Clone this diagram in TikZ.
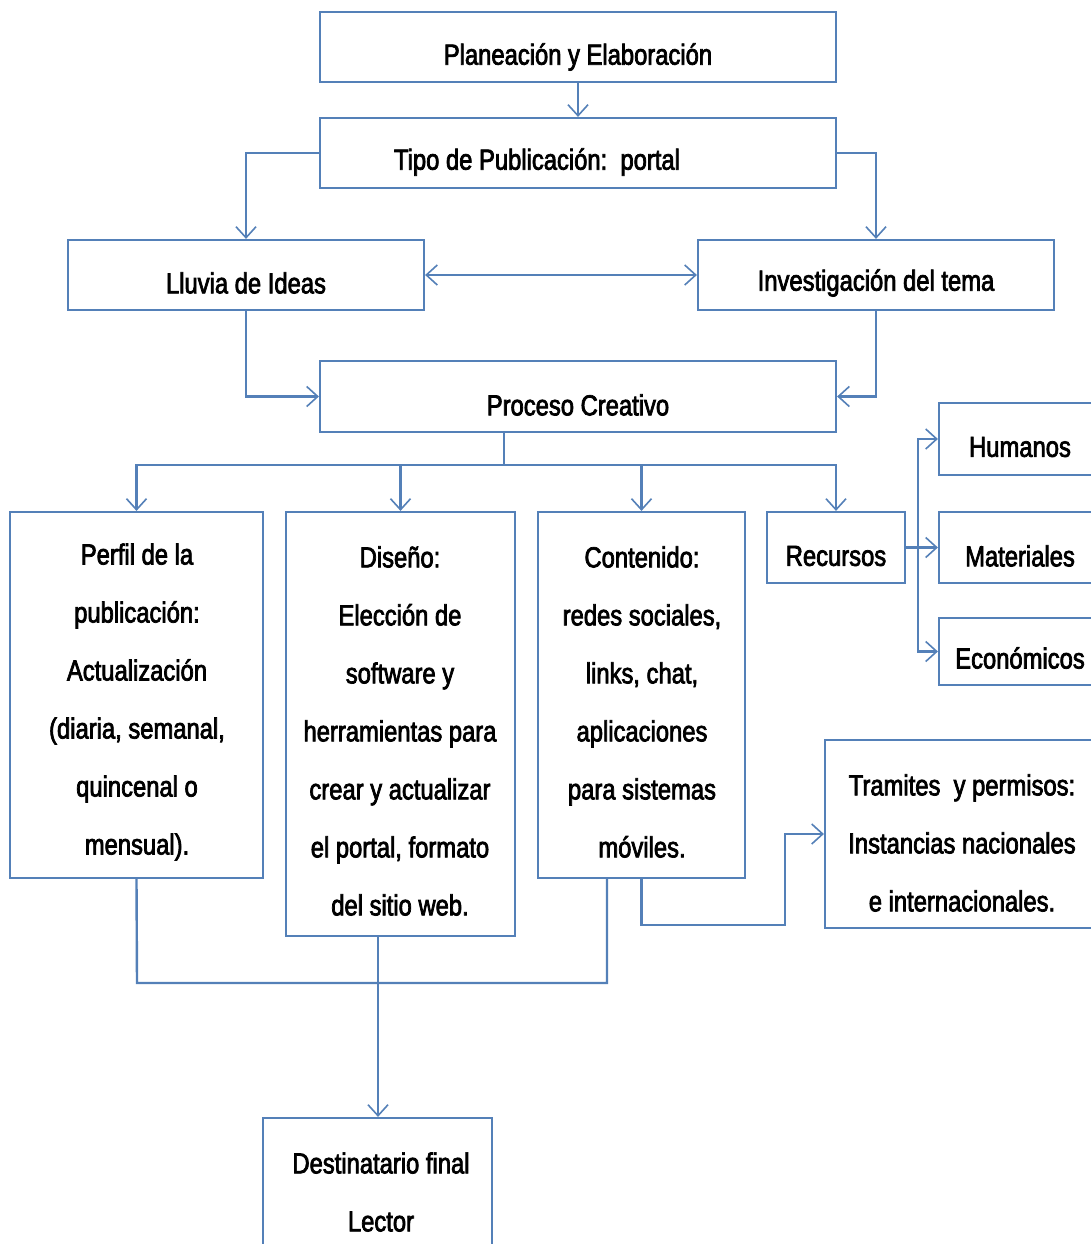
\documentclass[tikz,border=0pt]{standalone}
\usepackage{fontspec}
\setmainfont{Liberation Sans}[FakeStretch=0.82,FakeBold=2.5]
\usetikzlibrary{arrows.meta}
\definecolor{lc}{RGB}{84,128,184}
\tikzset{
  box/.style={draw=lc, line width=2.2pt, inner sep=0pt, fill=white},
  txt/.style={inner sep=0pt, align=center, text=black,
     font=\fontsize{29pt}{58pt}\selectfont},
  line/.style={draw=lc, line width=2.4pt},
  arr/.style={line, -{Straight Barb[length=11pt,width=20pt,line width=1.6pt]}},
  darr/.style={line, {Straight Barb[length=11pt,width=20pt,line width=1.6pt]}-{Straight Barb[length=11pt,width=20pt,line width=1.6pt]}}
}
\begin{document}
\begin{tikzpicture}[x=1pt,y=-1pt]
\useasboundingbox[fill=white] (0,0) rectangle (1090,1244);
% boxes
\node[box, minimum width=516pt, minimum height=70pt] (plan) at (578,47) {};
\node[box, minimum width=516pt, minimum height=70pt] (tipo) at (578,153) {};
\node[box, minimum width=356pt, minimum height=70pt] (lluvia) at (246,275) {};
\node[box, minimum width=356pt, minimum height=70pt] (inv) at (876,275) {};
\node[box, minimum width=516pt, minimum height=71pt] (proc) at (578,396.5) {};
\node[box, minimum width=253pt, minimum height=366pt] (perfil) at (136.5,695) {};
\node[box, minimum width=229pt, minimum height=424pt] (dis) at (400.5,724) {};
\node[box, minimum width=207pt, minimum height=366pt] (cont) at (641.5,695) {};
\node[box, minimum width=138pt, minimum height=71pt] (rec) at (836,547.5) {};
\node[box, minimum width=160pt, minimum height=72pt] (hum) at (1019,439) {};
\node[box, minimum width=160pt, minimum height=71pt] (mat) at (1019,547.5) {};
\node[box, minimum width=160pt, minimum height=67pt] (eco) at (1019,651.5) {};
\node[box, minimum width=280pt, minimum height=188pt] (tra) at (965,834) {};
\node[box, minimum width=229pt, minimum height=150pt] (dest) at (377.5,1193) {};
% texts
\node[txt] (tplan) at (578,57) {Planeación y Elaboración};
\node[txt] (ttipo) at (537,162) {Tipo de Publicación:\ \ portal};
\node[txt] (tlluvia) at (246,283) {Lluvia de Ideas};
\node[txt] (tinv) at (876,283) {Investigación del tema};
\node[txt] (tproc) at (578,405) {Proceso Creativo};
\node[txt] (tperfil) at (137,702) {Perfil de la\\publicación:\\Actualización\\(diaria, semanal,\\quincenal o\\mensual).};
\node[txt] (tdis) at (400,731) {Diseño:\\Elección de\\software y\\herramientas para\\crear y actualizar\\el portal, formato\\del sitio web.};
\node[txt] (tcont) at (642,702) {Contenido:\\redes sociales,\\links, chat,\\aplicaciones\\para sistemas\\móviles.};
\node[txt] (trec) at (836,556) {Recursos};
\node[txt] (thum) at (1020,447) {Humanos};
\node[txt] (tmat) at (1020,556) {Materiales};
\node[txt] (teco) at (1020,658) {Económicos};
\node[txt] (ttra) at (962,843) {Tramites\ \ y permisos:\\Instancias nacionales\\e internacionales.};
\node[txt] (tdest) at (381,1192) {Destinatario final\\Lector};
% coordinates
\coordinate (pc) at (504,465);
\coordinate (rj) at (918,547.5);
\coordinate (c1) at (785,925);
\coordinate (j1) at (137,983);
\coordinate (j2) at (607,983);
\coordinate (dx) at (378,0);
% connectors
\draw[arr] (plan.south) -- (tipo.north);
\draw[arr] (tipo.west) -| (lluvia.north);
\draw[arr] (tipo.east) -| (inv.north);
\draw[darr] (lluvia.east) -- (inv.west);
\draw[arr] (lluvia.south) |- (proc.west);
\draw[arr] (inv.south) |- (proc.east);
\draw[line] (proc.south -| pc) -- (pc);
\draw[arr] (pc) -| (perfil.north);
\draw[arr] (pc) -| (dis.north);
\draw[arr] (pc) -| (cont.north);
\draw[arr] (pc) -| (rec.north);
\draw[line] (rec.east) -- (rj);
\draw[arr] (rj) |- (hum.west);
\draw[arr] (rj) -- (mat.west);
\draw[arr] (rj) |- (eco.west);
\draw[arr] (cont.south) |- (c1) |- (tra.west);
\draw[line] (perfil.south) -- (j1) -- (j2) -- (cont.south -| j2);
\draw[arr] (dis.south -| dx) -- (dest.north -| dx);
\end{tikzpicture}
\end{document}
